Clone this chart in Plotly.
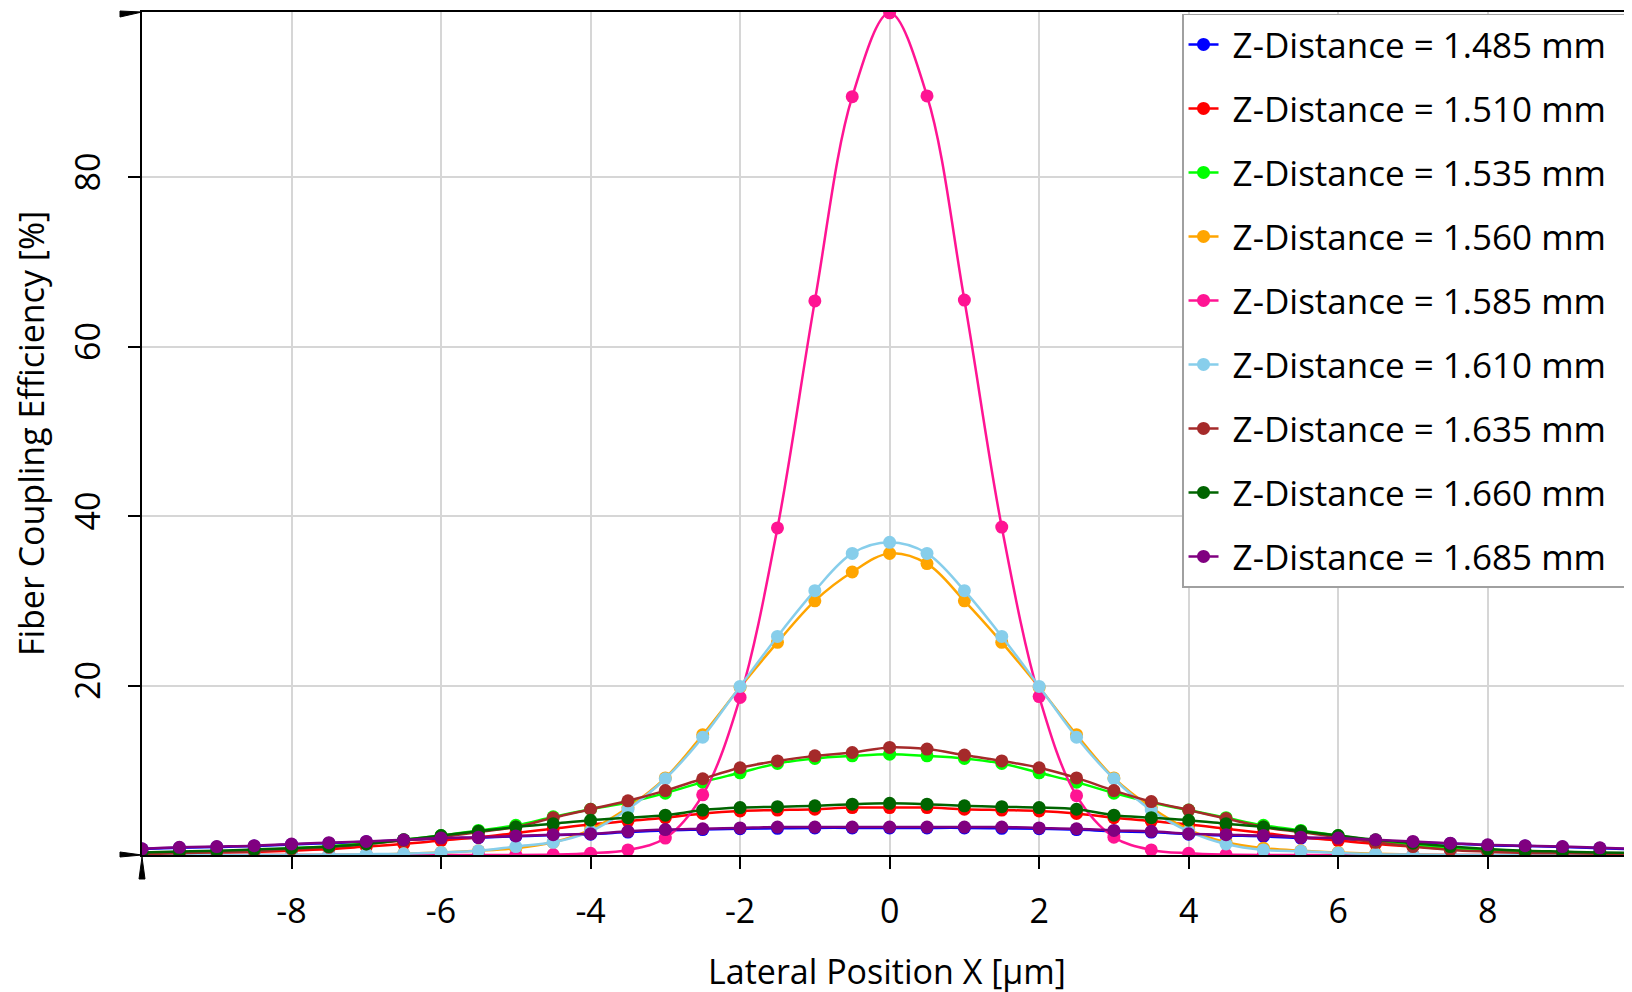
import plotly.graph_objects as go

# lateral positions (um)
x_um = [-10, -9.5, -9, -8.5, -8, -7.5, -7, -6.5, -6, -5.5, -5, -4.5, -4, -3.5, -3,
        -2.5, -2, -1.5, -1, -0.5, 0, 0.5, 1, 1.5, 2, 2.5, 3, 3.5, 4, 4.5, 5,
        5.5, 6, 6.5, 7, 7.5, 8, 8.5, 9, 9.5, 10]

# fiber coupling efficiency [%] for each z-distance
eff_1485 = [0.7, 0.85, 0.95, 1.05, 1.25, 1.4, 1.55, 1.75, 1.95, 2.05, 2.2, 2.35, 2.45, 2.7,
            2.9, 3.0, 3.1, 3.15, 3.2, 3.2, 3.2, 3.2, 3.2, 3.15, 3.1, 3.0, 2.8, 2.7, 2.45,
            2.3, 2.2, 2.0, 1.9, 1.7, 1.5, 1.35, 1.15, 1.05, 0.95, 0.8, 0.65]
eff_1510 = [0.1, 0.15, 0.25, 0.35, 0.5, 0.7, 1.0, 1.3, 1.7, 2.1, 2.6, 3.1, 3.6, 4.0,
            4.4, 4.9, 5.2, 5.3, 5.4, 5.6, 5.6, 5.6, 5.4, 5.3, 5.2, 4.9, 4.4, 4.0, 3.6,
            3.1, 2.6, 2.1, 1.7, 1.3, 1.0, 0.7, 0.5, 0.35, 0.25, 0.15, 0.1]
eff_1535 = [0.15, 0.25, 0.4, 0.55, 0.8, 1.0, 1.4, 1.8, 2.3, 2.9, 3.5, 4.5, 5.4, 6.2,
            7.3, 8.6, 9.7, 10.8, 11.4, 11.7, 11.9, 11.7, 11.4, 10.8, 9.7, 8.6, 7.3, 6.2,
            5.3, 4.4, 3.5, 2.9, 2.3, 1.7, 1.2, 0.8, 0.5, 0.35, 0.25, 0.2, 0.15]
eff_1560 = [0, 0, 0, 0, 0, 0, 0.05, 0.15, 0.3, 0.5, 0.8, 1.5, 3.0, 5.6,
            9.1, 14.2, 19.8, 25.1, 30.0, 33.4, 35.6, 34.4, 30.0, 25.1, 19.8, 14.2, 9.1,
            5.6, 3.0, 1.5, 0.8, 0.5, 0.3, 0.15, 0.05, 0, 0, 0, 0, 0, 0]
eff_1585 = [0, 0, 0, 0, 0, 0, 0, 0, 0, 0, 0, 0.05, 0.2, 0.6,
            2.0, 7.1, 18.6, 38.6, 65.4, 89.5, 99.4, 89.6, 65.5, 38.7, 18.7, 7.0, 2.1,
            0.6, 0.2, 0.05, 0, 0, 0, 0, 0, 0, 0, 0, 0, 0, 0]
eff_1610 = [0, 0, 0, 0, 0, 0.05, 0.1, 0.15, 0.3, 0.5, 1.0, 1.5, 2.8, 5.4,
            9.0, 13.9, 19.9, 25.8, 31.2, 35.6, 36.9, 35.6, 31.2, 25.8, 19.9, 13.9, 9.0,
            5.3, 2.8, 1.3, 0.6, 0.45, 0.25, 0.1, 0.05, 0, 0, 0, 0, 0, 0]
eff_1635 = [0.1, 0.2, 0.35, 0.45, 0.7, 0.9, 1.3, 1.7, 2.1, 2.7, 3.3, 4.4, 5.4, 6.4,
            7.6, 9.0, 10.3, 11.1, 11.7, 12.1, 12.7, 12.5, 11.8, 11.1, 10.3, 9.1, 7.6,
            6.3, 5.3, 4.3, 3.3, 2.7, 2.1, 1.5, 1.0, 0.6, 0.4, 0.25, 0.2, 0.15, 0.1]
eff_1660 = [0.3, 0.4, 0.5, 0.65, 0.8, 1.0, 1.3, 1.8, 2.3, 2.8, 3.3, 3.7, 4.1, 4.4,
            4.7, 5.3, 5.6, 5.7, 5.8, 6.0, 6.1, 6.0, 5.8, 5.7, 5.6, 5.4, 4.7, 4.4, 4.1,
            3.7, 3.3, 2.8, 2.3, 1.8, 1.4, 1.0, 0.7, 0.5, 0.4, 0.3, 0.25]
eff_1685 = [0.73, 0.9, 1.0, 1.1, 1.3, 1.45, 1.6, 1.8, 2.0, 2.1, 2.25, 2.4, 2.5, 2.8,
            3.0, 3.1, 3.2, 3.3, 3.3, 3.3, 3.3, 3.3, 3.3, 3.3, 3.2, 3.1, 2.9, 2.8, 2.5,
            2.4, 2.3, 2.1, 2.0, 1.8, 1.6, 1.4, 1.2, 1.1, 1.0, 0.85, 0.7]

z_labels = ['1.485', '1.510', '1.535', '1.560', '1.585', '1.610', '1.635', '1.660', '1.685']
series = [eff_1485, eff_1510, eff_1535, eff_1560, eff_1585,
          eff_1610, eff_1635, eff_1660, eff_1685]
line_colors = ['#0000ff', '#ff0000', '#00ff00', '#ffa500', '#ff1493',
               '#87ceeb', '#a52a2a', '#006400', '#800080']

x_tickvals = [-8, -6, -4, -2, 0, 2, 4, 6, 8]
x_ticktext = ['-8', '-6', '-4', '-2', '0', '2', '4', '6', '8']
y_tickvals = [20, 40, 60, 80]

FONT = 'Open Sans'
FSIZE = 34
NBSP = '\u00a0'

fig = go.Figure()

for z, y, c in zip(z_labels, series, line_colors):
    # nbsp padding: gap after the symbol and a bit of room on the right
    fig.add_trace(go.Scatter(x=x_um, y=y, mode='lines+markers',
                             name=NBSP + 'Z-Distance = %s mm' % z + NBSP * 2,
                             legendgroup=z,
                             line=dict(color=c, width=2.5, shape='spline', smoothing=1),
                             marker=dict(color=c, size=13)))

# axes
fig.update_xaxes(range=[-10, 9.93], tickvals=x_tickvals, ticktext=x_ticktext,
                 showline=True, linecolor='black', linewidth=2, mirror=True,
                 ticks='outside', ticklen=12, tickwidth=2, tickcolor='black',
                 showgrid=True, gridcolor='#d6d6d6', gridwidth=1.5, zeroline=False,
                 ticklabelstandoff=13, automargin=False,
                 tickfont=dict(family=FONT, size=FSIZE, color='black'),
                 title=dict(text='Lateral Position X [µm]', standoff=28,
                            font=dict(family=FONT, size=FSIZE, color='black')))

fig.update_yaxes(range=[0, 99.5], tickvals=y_tickvals, tickangle=-90,
                 showline=True, linecolor='black', linewidth=2,
                 ticks='outside', ticklen=12, tickwidth=2, tickcolor='black',
                 showgrid=True, gridcolor='#d6d6d6', gridwidth=1.5, zeroline=False,
                 ticklabelstandoff=14, automargin=False,
                 tickfont=dict(family=FONT, size=FSIZE, color='black'),
                 title=dict(text='Fiber Coupling Efficiency [%]', standoff=18,
                            font=dict(family=FONT, size=FSIZE, color='black')))

# little arrow heads at the axis corners
arrow_heads = [
    dict(y=1, path='M -22,-5 L -22,1 L 0,0 Z'),
    dict(y=0, path='M -22,-2 L -22,3 L 0,0 Z'),
    dict(y=0, path='M -3,-24 L 3,-24 L 0,-2 Z'),
]
for a in arrow_heads:
    fig.add_shape(type='path', xref='paper', yref='paper', xsizemode='pixel',
                  ysizemode='pixel', xanchor=0, yanchor=a['y'], path=a['path'],
                  fillcolor='black', line=dict(color='black', width=1))

fig.update_layout(width=1632, height=992,
                  margin=dict(l=134, r=8, t=4, b=145),
                  plot_bgcolor='white', paper_bgcolor='white',
                  font=dict(family=FONT, size=FSIZE, color='black'),
                  legend=dict(x=0.698, y=0.998, xanchor='left', yanchor='top',
                              bgcolor='white', bordercolor='#a0a0a0', borderwidth=1.5,
                              tracegroupgap=15.5,
                              font=dict(family=FONT, size=35, color='black')),
                  showlegend=True)

fig.write_html('out.html')
